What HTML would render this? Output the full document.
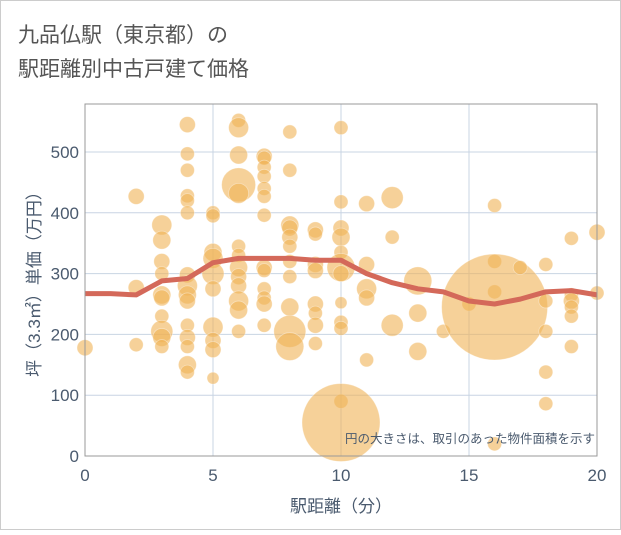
<!DOCTYPE html>
<html><head><meta charset="utf-8"><style>
body{margin:0;background:#fff;font-family:"Liberation Sans","Noto Sans CJK JP",sans-serif;}
svg text{font-family:"Liberation Sans","Noto Sans CJK JP",sans-serif;}
</style></head><body>
<svg id="c" width="621" height="530" xmlns="http://www.w3.org/2000/svg">
<rect x="0.5" y="0.5" width="620" height="529" fill="#fff" stroke="#ccc"/>
<text x="18" y="42" font-size="21" fill="#555">九品仏駅（東京都）の</text>
<text x="18" y="76" font-size="21" fill="#555">駅距離別中古戸建て価格</text>
<g id="grid"></g>
<g id="bubbles"></g>
<g id="trend"></g>
<rect x="85" y="104" width="512" height="352" fill="none" stroke="#999"/>
<g id="ticks"></g>
<text x="595" y="443" font-size="12.5" fill="#4a5a6e" text-anchor="end">円の大きさは、取引のあった物件面積を示す</text>
<text x="341" y="512" font-size="17" fill="#4a5a6e" text-anchor="middle">駅距離（分）</text>
<text transform="translate(40,280) rotate(-90)" font-size="17" fill="#4a5a6e" text-anchor="middle">坪（3.3㎡）単価（万円）</text>
</svg>
<script>
const xTicks=[0,5,10,15,20];
const yTicks=[0,100,200,300,400,500];
const px=[0,2,2,2,3,3,3,3,3,3,3,3,3,3,4,4,4,4,4,4,4,4,4,4,4,4,4,4,4,5,5,5,5,5,5,5,5,5,5,6,6,6,6,6,6,6,6,6,6,6,6,6,7,7,7,7,7,7,7,7,7,7,7,7,7,8,8,8,8,8,8,8,8,8,8,8,9,9,9,9,9,9,9,9,10,10,10,10,10,10,10,10,10,10,10,10,11,11,11,11,11,12,12,12,13,13,13,14,15,16,16,16,16,16,17,18,18,18,18,18,19,19,19,19,19,19,20,20];
const py=[178,427,277,183,380,355,320,300,265,260,230,205,195,180,545,497,470,428,420,400,298,280,265,255,215,195,180,150,138,400,395,335,325,300,275,212,190,175,128,552,540,495,446,432,345,330,310,295,280,255,240,205,493,490,475,460,440,427,396,310,305,275,260,250,215,533,470,380,375,360,345,320,295,245,205,180,372,365,315,305,250,235,215,185,540,418,375,360,335,310,300,252,220,210,90,55,415,315,275,260,158,425,360,215,288,235,172,205,250,412,320,270,245,20,310,315,255,205,138,86,358,265,255,245,230,180,368,268];
const pr=[8,8,8,7,10,9,8,7,9,8,7,11,9,7,8,7,7,7,7,7,8,10,9,8,7,8,7,9,7,7,7,9,10,11,8,10,8,8,6,7,10,9,17,10,7,7,9,8,8,10,9,7,8,7,7,7,7,7,7,8,7,7,7,8,7,7,7,9,8,8,7,7,7,9,16,14,8,7,8,8,8,7,8,7,7,7,8,9,7,14,8,6,7,7,7,39,8,8,10,8,7,11,7,11,14,9,9,7,7,7,7,7,53,7,7,7,7,7,7,7,7,7,8,7,7,7,8,7];
const lineX=[0,1,2,3,4,5,6,7,8,9,10,11,12,13,14,15,16,17,18,19,20];
const lineY=[267,267,265,288,292,318,325,325,325,322,322,300,285,275,270,255,250,258,270,272,265];
const X=v=>85+v*25.6, Y=v=>456-v*0.608;
const NS='http://www.w3.org/2000/svg';
function mk(t,a,p){const e=document.createElementNS(NS,t);for(const k in a)e.setAttribute(k,a[k]);p.appendChild(e);return e;}
const g=document.getElementById('grid'),tk=document.getElementById('ticks');
xTicks.forEach(v=>{const l=mk('line',{x1:X(v),x2:X(v),y1:104,y2:456,stroke:'#c8d4e3'},g);


const t=mk('text',{x:X(v),y:481,'font-size':17,fill:'#4a5a6e','text-anchor':'middle'},tk);t.textContent=v;

});
yTicks.forEach(v=>{const l=mk('line',{x1:85,x2:597,y1:Y(v),y2:Y(v),stroke:'#c8d4e3'},g);


const t=mk('text',{x:79,y:Y(v)+6,'font-size':17,fill:'#4a5a6e','text-anchor':'end'},tk);t.textContent=v;

});
const b=document.getElementById('bubbles');
px.forEach((v,i)=>{const c=mk('circle',{cx:X(v),cy:Y(py[i]),r:pr[i],fill:'rgb(240,178,85)','fill-opacity':0.6,stroke:'#fff','stroke-opacity':0.4,'stroke-width':0.8},b);

});
const p=mk('polyline',{points:lineX.map((v,i)=>X(v)+','+Y(lineY[i])).join(' '),fill:'none',stroke:'#d4695a','stroke-width':5,'stroke-linejoin':'round'},document.getElementById('trend'));


</script>
</body></html>
